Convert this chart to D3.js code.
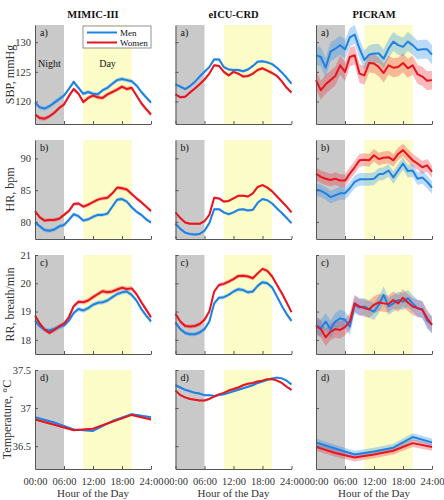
<!DOCTYPE html>
<html>
<head>
<meta charset="utf-8">
<script src="https://cdn.jsdelivr.net/npm/d3@7"></script>
<style>
  body { margin: 0; background: #fff; }
  svg { display: block; }
  text { font-family: "Liberation Serif", "Times New Roman", serif; }
</style>
</head>
<body>
<div id="chart"></div>
<script>
const W = 444, H = 500

const datasets = ['MIMIC-III', 'eICU-CRD', 'PICRAM']
const varLabels = ['SBP, mmHg', 'HR, bpm', 'RR, breath/min', 'Temperature, \u00B0C']
const panelTags = ['a)', 'b)', 'c)', 'd)']
const yDomains = [[116.2, 132.9], [77.3, 92.9], [17.5, 21], [36.2, 37.5]]
const yTicks = [[120, 125, 130], [80, 85, 90], [18, 19, 20, 21], [36.5, 37, 37.5]]
const xTicks = [0, 6, 12, 18, 24]
const xTickLabels = ['00:00', '06:00', '12:00', '18:00', '24:00']
const nightHours = [0, 6]
const dayHours = [10, 20]

const hours = [0,1,2,3,4,5,6,7,8,9,10,11,12,13,14,15,16,17,18,19,20,21,22,23,24]
const hours4 = [0, 4, 8, 12, 16, 20, 24]

// MIMIC-III
const mimicSbpMen   = [119.8,119.0,118.8,119.2,119.8,120.4,121.0,122.1,123.3,122.3,121.3,121.6,121.3,121.2,121.9,122.3,123.0,123.6,123.8,123.6,123.4,122.7,121.6,120.7,119.8]
const mimicSbpWomen = [117.8,117.2,117.1,117.5,118.1,118.9,119.5,120.9,122.1,121.3,119.9,120.6,121.0,120.7,120.6,121.2,121.6,122.0,122.5,122.1,122.3,121.0,119.7,118.7,117.8]
const mimicHrMen    = [79.9,79.3,78.7,78.6,78.8,79.3,79.5,80.3,81.2,80.9,80.2,80.4,80.8,81.1,81.1,81.3,82.4,83.5,83.6,83.2,82.3,81.6,81.1,80.4,79.9]
const mimicHrWomen  = [81.7,80.7,80.2,80.3,80.3,80.5,81.1,81.7,82.8,82.9,82.4,82.7,83.1,83.5,83.7,83.8,84.5,85.4,85.3,85.1,84.4,83.7,83.1,82.4,81.7]
const mimicRrMen    = [18.68,18.48,18.36,18.33,18.39,18.45,18.51,18.68,18.95,19.09,19.04,19.12,19.24,19.31,19.33,19.39,19.51,19.62,19.68,19.71,19.59,19.39,19.09,18.86,18.65]
const mimicRrWomen  = [18.86,18.57,18.36,18.25,18.35,18.48,18.57,18.80,19.19,19.35,19.33,19.39,19.51,19.62,19.72,19.68,19.71,19.78,19.84,19.80,19.82,19.62,19.33,19.07,18.80]
const mimicTempMen   = [36.88,36.81,36.72,36.70,36.83,36.92,36.88]
const mimicTempWomen = [36.85,36.78,36.71,36.73,36.82,36.91,36.85]

// eICU-CRD
const eicuSbpMen   = [122.9,122.5,122.1,122.6,123.3,124.2,125.0,125.8,127.1,127.1,125.8,125.4,125.3,125.3,125.1,125.4,126.0,126.7,126.8,126.6,126.3,125.7,124.9,124.0,123.0]
const eicuSbpWomen = [121.2,120.7,120.8,121.5,122.2,122.9,123.7,124.7,126.1,126.0,125.0,124.4,125.0,124.7,124.2,124.3,124.7,125.3,125.6,125.2,124.8,124.3,123.4,122.3,121.5]
const eicuHrMen    = [79.7,78.9,78.3,78.1,78.0,78.1,78.6,79.8,82.0,82.0,81.5,81.2,81.5,81.9,82.0,81.8,81.9,83.0,83.6,83.4,82.9,82.1,81.4,80.6,79.8]
const eicuHrWomen  = [81.5,80.6,79.9,79.7,79.7,79.7,80.1,81.1,83.8,83.7,83.2,83.3,83.7,84.1,84.1,84.0,84.5,85.5,85.8,85.4,84.8,84.0,83.2,82.4,81.5]
const eicuRrMen    = [18.61,18.38,18.24,18.20,18.20,18.26,18.38,18.65,19.29,19.49,19.51,19.59,19.71,19.79,19.76,19.68,19.71,19.91,20.04,20.00,19.85,19.53,19.20,18.91,18.67]
const eicuRrWomen  = [18.92,18.65,18.49,18.47,18.49,18.56,18.71,19.00,19.71,19.94,19.98,20.06,20.15,20.26,20.27,20.24,20.18,20.35,20.51,20.44,20.24,19.94,19.65,19.32,18.98]
const eicuTempMen   = [37.30,37.27,37.24,37.22,37.20,37.19,37.17,37.17,37.16,37.17,37.18,37.20,37.22,37.24,37.26,37.28,37.30,37.33,37.35,37.37,37.39,37.40,37.39,37.36,37.31]
const eicuTempWomen = [37.23,37.17,37.14,37.12,37.11,37.10,37.10,37.12,37.15,37.18,37.20,37.23,37.25,37.27,37.30,37.32,37.33,37.35,37.36,37.38,37.38,37.36,37.33,37.28,37.24]

// PICRAM
const picramSbpMen   = [127.8,127.5,125.7,128.4,128.9,129.5,128.8,130.8,131.3,128.9,127.0,127.9,128.1,128.1,127.2,128.9,130.1,129.5,129.2,130.1,129.5,128.7,128.8,128.8,127.9]
const picramSbpWomen = [123.6,121.9,122.9,123.6,124.3,126.1,125.0,127.5,127.8,124.7,124.4,126.5,126.4,125.8,124.8,126.1,125.7,125.8,126.5,125.6,126.1,124.6,124.2,123.5,123.6]
const picramHrMen    = [85.1,84.9,84.5,83.9,84.2,84.5,84.5,85.3,86.3,86.7,86.7,86.7,86.8,87.5,87.6,88.1,87.0,88.1,89.2,88.0,88.1,86.8,87.0,86.3,85.4]
const picramHrWomen  = [87.6,87.1,86.8,86.6,86.8,86.5,86.5,87.6,88.6,89.7,89.8,89.7,90.5,89.9,90.1,90.2,89.7,90.7,91.3,90.5,89.7,89.2,88.6,88.9,87.9]
const picramRrMen    = [18.53,18.41,18.65,18.38,18.65,18.76,18.71,18.47,19.24,19.14,19.18,19.08,19.00,19.24,19.59,19.18,19.29,19.41,19.35,19.47,19.29,19.12,19.08,18.68,18.53]
const picramRrWomen  = [18.49,18.38,18.09,18.29,18.38,18.35,18.45,18.65,19.29,19.18,19.12,19.08,19.24,19.32,19.29,19.27,19.41,19.29,19.49,19.32,19.18,19.12,19.06,18.76,18.53]
const picramTempMen   = [36.55,36.47,36.39,36.43,36.48,36.62,36.55]
const picramTempWomen = [36.49,36.41,36.35,36.39,36.44,36.54,36.49]

// confidence band half widths, one per variable (SBP, HR, RR, Temp)
const bandMimic  = [0.35, 0.3, 0.08, 0.012]
const bandEicu   = [0.25, 0.2, 0.07, 0.015]
const bandPicram = [1.6, 1.0, 0.3, 0.05]

const panels = [
  [
    {x: hours,  men: mimicSbpMen,  women: mimicSbpWomen,  band: bandMimic[0]},
    {x: hours,  men: mimicHrMen,   women: mimicHrWomen,   band: bandMimic[1]},
    {x: hours,  men: mimicRrMen,   women: mimicRrWomen,   band: bandMimic[2]},
    {x: hours4, men: mimicTempMen, women: mimicTempWomen, band: bandMimic[3]}
  ],
  [
    {x: hours, men: eicuSbpMen,  women: eicuSbpWomen,  band: bandEicu[0]},
    {x: hours, men: eicuHrMen,   women: eicuHrWomen,   band: bandEicu[1]},
    {x: hours, men: eicuRrMen,   women: eicuRrWomen,   band: bandEicu[2]},
    {x: hours, men: eicuTempMen, women: eicuTempWomen, band: bandEicu[3]}
  ],
  [
    {x: hours,  men: picramSbpMen,  women: picramSbpWomen,  band: bandPicram[0]},
    {x: hours,  men: picramHrMen,   women: picramHrWomen,   band: bandPicram[1]},
    {x: hours,  men: picramRrMen,   women: picramRrWomen,   band: bandPicram[2]},
    {x: hours4, men: picramTempMen, women: picramTempWomen, band: bandPicram[3]}
  ]
]

const menColor = '#1f82e3'
const womenColor = '#e8141e'
const menBand = 'rgba(40,140,235,0.32)'
const womenBand = 'rgba(235,40,50,0.32)'
const axisColor = '#555'
const textColor = '#333'

const colX = [35, 175.5, 316]
const rowY = [25, 140, 255, 370]
const pw = 116, ph = 99
// baseline x of the rotated y labels (temperature sits further left, wider ticks)
const yLabelX = [13.5, 13.5, 13.5, 10.5]

const svg = d3.select('#chart').append('svg')
  .attr('width', W)
  .attr('height', H)

const xScale = d3.scaleLinear().domain([0, 24]).range([0, pw])

datasets.forEach(function(name, c){
  svg.append('text')
    .attr('x', colX[c] + pw / 2)
    .attr('y', 18)
    .attr('text-anchor', 'middle')
    .attr('font-weight', 'bold')
    .attr('font-size', '10.5px')
    .attr('fill', '#111')
    .text(name)

  panels[c].forEach(function(p, r){
    const yScale = d3.scaleLinear().domain(yDomains[r]).range([ph, 0])
    const g = svg.append('g')
      .attr('transform', 'translate(' + colX[c] + ',' + rowY[r] + ')')

    // night and day shading
    g.append('rect')
      .attr('x', xScale(nightHours[0]))
      .attr('y', 0)
      .attr('width', xScale(nightHours[1]) - xScale(nightHours[0]))
      .attr('height', ph)
      .attr('fill', '#c9c9c9')
    g.append('rect')
      .attr('x', xScale(dayHours[0]))
      .attr('y', 0)
      .attr('width', xScale(dayHours[1]) - xScale(dayHours[0]))
      .attr('height', ph)
      .attr('fill', '#fcfcc8')

    const series = [
      {vals: p.women, line: womenColor, fill: womenBand},
      {vals: p.men, line: menColor, fill: menBand}
    ]

    // bands first, then lines on top
    series.forEach(function(s){
      const area = d3.area()
        .x(function(d, i){ return xScale(p.x[i]) })
        .y0(function(d){ return yScale(d - p.band) })
        .y1(function(d){ return yScale(d + p.band) })
      g.append('path')
        .datum(s.vals)
        .attr('d', area)
        .attr('fill', s.fill)
    })
    series.slice().reverse().forEach(function(s){
      const line = d3.line()
        .x(function(d, i){ return xScale(p.x[i]) })
        .y(function(d){ return yScale(d) })
      g.append('path')
        .datum(s.vals)
        .attr('d', line)
        .attr('fill', 'none')
        .attr('stroke', s.line)
        .attr('stroke-width', 2)
        .attr('stroke-linejoin', 'round')
    })

    // axes, ticks pointing inward like matlab
    const yAxis = d3.axisLeft(yScale)
      .tickValues(yTicks[r])
      .tickFormat(function(d){ return String(d) })
      .tickSizeInner(-3)
      .tickSizeOuter(0)
      .tickPadding(6)
    const ya = g.append('g').call(yAxis)
    ya.select('.domain').attr('stroke', axisColor)
    ya.selectAll('.tick line').attr('stroke', axisColor)
    ya.selectAll('.tick text')
      .attr('font-family', '"Liberation Serif", serif')
      .attr('font-size', '10.5px')
      .attr('fill', textColor)
      .attr('x', -4)
      .style('display', c === 0 ? null : 'none')

    const xAxis = d3.axisBottom(xScale)
      .tickValues(xTicks)
      .tickSizeInner(-3)
      .tickSizeOuter(0)
      .tickPadding(9)
      .tickFormat(function(d, i){ return xTickLabels[i] })
    const xa = g.append('g')
      .attr('transform', 'translate(0,' + ph + ')')
      .call(xAxis)
    xa.select('.domain').attr('stroke', axisColor)
    xa.selectAll('.tick line').attr('stroke', axisColor)
    xa.selectAll('.tick text')
      .attr('font-family', '"Liberation Serif", serif')
      .attr('font-size', '10.5px')
      .attr('fill', textColor)
      .style('display', r === 3 ? null : 'none')

    g.append('text')
      .attr('x', 5)
      .attr('y', 11)
      .attr('font-size', '10px')
      .attr('fill', '#111')
      .text(panelTags[r])

    if (c === 0) {
      svg.append('text')
        .attr('transform', 'translate(' + yLabelX[r] + ',' + (rowY[r] + ph / 2) + ') rotate(-90)')
        .attr('text-anchor', 'middle')
        .attr('font-size', '12px')
        .attr('fill', textColor)
        .text(varLabels[r])
    }
    if (r === 3) {
      svg.append('text')
        .attr('x', colX[c] + pw / 2)
        .attr('y', 497)
        .attr('text-anchor', 'middle')
        .attr('font-size', '11px')
        .attr('fill', textColor)
        .text('Hour of the Day')
    }
    if (c === 0 && r === 0) {
      g.append('text')
        .attr('x', 3)
        .attr('y', 42)
        .attr('font-size', '10px')
        .attr('fill', '#111')
        .text('Night')
      g.append('text')
        .attr('x', xScale(15))
        .attr('y', 42)
        .attr('text-anchor', 'middle')
        .attr('font-size', '10px')
        .attr('fill', '#111')
        .text('Day')

      // legend
      const lg = g.append('g').attr('transform', 'translate(' + 48 + ',' + 1 + ')')
      lg.append('rect')
        .attr('width', 68)
        .attr('height', 22)
        .attr('fill', '#fff')
        .attr('stroke', '#777')
        .attr('stroke-width', 0.8)
      const items = [{label: 'Men', color: menColor}, {label: 'Women', color: womenColor}]
      items.forEach(function(it, i){
        lg.append('line')
          .attr('x1', 4).attr('x2', 34)
          .attr('y1', 6.5 + i * 10).attr('y2', 6.5 + i * 10)
          .attr('stroke', it.color)
          .attr('stroke-width', 2)
        lg.append('text')
          .attr('x', 37)
          .attr('y', 9.5 + i * 10)
          .attr('font-size', '9px')
          .attr('fill', '#111')
          .text(it.label)
      })
    }
  })
})
</script>
</body>
</html>
